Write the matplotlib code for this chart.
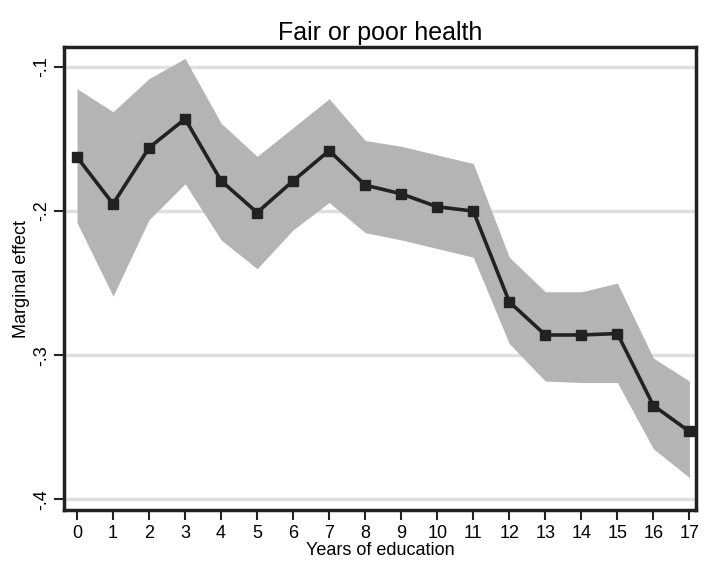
import numpy as np
import matplotlib.pyplot as plt

INK, BAND, GRID = "#222222", "#b4b4b4", "#e0e0e0"
plt.rcParams.update({"font.family": ["Liberation Sans", "DejaVu Sans"], "font.size": 12})

years = list(range(18))
effect = [-0.1625, -0.195, -0.156, -0.136, -0.179, -0.201, -0.179, -0.158, -0.182,
          -0.188, -0.197, -0.200, -0.263, -0.286, -0.286, -0.285, -0.335, -0.353]
upper = [-0.115, -0.131, -0.108, -0.094, -0.139, -0.162, -0.142, -0.122, -0.151,
         -0.155, -0.161, -0.167, -0.232, -0.256, -0.256, -0.250, -0.302, -0.318]
lower = [-0.208, -0.259, -0.206, -0.181, -0.220, -0.240, -0.213, -0.194, -0.215,
         -0.220, -0.226, -0.232, -0.292, -0.318, -0.319, -0.319, -0.365, -0.385]
yticks = [-0.4, -0.3, -0.2, -0.1]
ylabels = ["-.4", "-.3", "-.2", "-.1"]

fig = plt.figure(figsize=(7.04, 5.7), dpi=100)
ax = fig.add_axes([0.091, 0.105, 0.898, 0.8125])

for v in yticks:
    ax.axhline(v, color=GRID, lw=2.5, zorder=0)
ax.fill_between(years, lower, upper, color=BAND, lw=0, zorder=1)
ax.plot(years, effect, color=INK, lw=2.6, marker="s", ms=6.5, zorder=3)

ax.set_xlim(-0.36, 17.19)
ax.set_ylim(-0.4076, -0.0861)
ax.set_xticks(years)
ax.set_yticks(yticks)
ax.set_yticklabels(ylabels, rotation=90, va="center")
ax.tick_params(axis="both", direction="out", length=7, width=1.5, labelsize=13, color=INK)
ax.tick_params(axis="y", pad=3)
for s in ax.spines.values():
    s.set_linewidth(2.5)
    s.set_color(INK)

ax.set_title("Fair or poor health", fontsize=18, pad=5)
ax.set_xlabel("Years of education", fontsize=13, labelpad=0)
ax.set_ylabel("Marginal effect", fontsize=13, labelpad=2)

fig.savefig("out.png", dpi=100, facecolor="white")
